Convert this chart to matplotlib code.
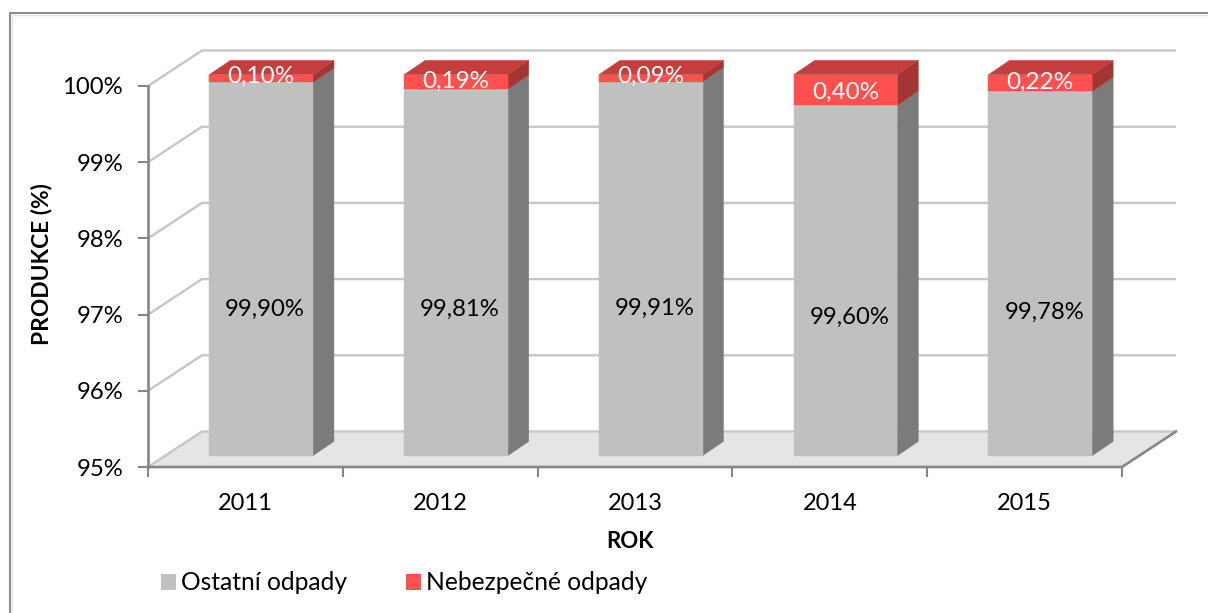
import matplotlib
matplotlib.use("Agg")
import matplotlib.pyplot as plt
from matplotlib.lines import Line2D
from matplotlib.patches import Polygon, Patch

plt.rcParams['font.family'] = ['Lato', 'DejaVu Sans']

years = ['2011', '2012', '2013', '2014', '2015']
ostatni = [99.90, 99.81, 99.91, 99.60, 99.78]
nebezpecne = [0.10, 0.19, 0.09, 0.40, 0.22]
ostatni_labels = ['99,90%', '99,81%', '99,91%', '99,60%', '99,78%']
nebezpecne_labels = ['0,10%', '0,19%', '0,09%', '0,40%', '0,22%']
y_ticks = [95, 96, 97, 98, 99, 100]
y_tick_labels = ['95%', '96%', '97%', '98%', '99%', '100%']

W, H = 1208, 613
fig = plt.figure(figsize=(W / 100, H / 100), dpi=100)
fig.patch.set_facecolor('white')

# chart border: only top and left are visible in the crop, with a faint inner shadow
fig.add_artist(Line2D([10 / W, 10 / W, 1], [0, 1 - 13 / H, 1 - 13 / H], transform=fig.transFigure,
                      color='#8c8c8c', lw=1.5, zorder=-1))
fig.add_artist(Line2D([12 / W, 12 / W, 1], [0, 1 - 15 / H, 1 - 15 / H], transform=fig.transFigure,
                      color='#e4e4e4', lw=1, zorder=-1))

# front plane of the fake 3D box, in pixels
left, right, bottom, top = 148, 1122, 467, 86
ax = fig.add_axes([left / W, 1 - bottom / H, (right - left) / W, (bottom - top) / H])
ax.set_xlim(0, len(years))
ax.set_ylim(95, 100)
ax.patch.set_alpha(0)

px_x = len(years) / (right - left)
px_y = 5 / (bottom - top)


def poly(pts, color, z):
    ax.add_patch(Polygon(pts, closed=True, fc=color, ec=color, lw=0.3, zorder=z, clip_on=False))


# wall depth
wall_dx = 54 * px_x
wall_dy = 35.5 * px_y

# floor
poly([(0, 95), (5, 95), (5 + wall_dx, 95 + wall_dy), (wall_dx, 95 + wall_dy)], '#e5e5e5', 1)

# gridlines, going back along the side wall
for t in y_ticks:
    ax.plot([0, wall_dx, 5 + wall_dx], [t, t + wall_dy, t + wall_dy], color='#c6c6c6', lw=1.7,
            solid_joinstyle='miter', solid_capstyle='butt', zorder=2, clip_on=False)

# floor front and right edge
ax.plot([0, 5, 5 + wall_dx], [95, 95, 95 + wall_dy], color='#868686', lw=1.9,
        solid_joinstyle='miter', zorder=3, clip_on=False)

# bars
bar_w = 103.7 * px_x
shift_x = 15.7 * px_x
shift_y = 11.3 * px_y
depth_x = 21 * px_x
depth_y = 14.3 * px_y

# Excel placed the labels a little unevenly, nudges in pixels
ostatni_nudge = [-40, -37, -40, -37, -39]
nebezpecne_nudge = [2, 1, 2, -2, 1]

for i in range(len(years)):
    x0 = i + 0.5 + shift_x - bar_w / 2
    x1 = x0 + bar_w
    y0 = 95 + shift_y
    y1 = ostatni[i] + shift_y
    y2 = ostatni[i] + nebezpecne[i] + shift_y

    poly([(x1, y0), (x1 + depth_x, y0 + depth_y), (x1 + depth_x, y1 + depth_y), (x1, y1)], '#7b7b7b', 4)
    poly([(x1, y1), (x1 + depth_x, y1 + depth_y), (x1 + depth_x, y2 + depth_y), (x1, y2)], '#a33535', 4)
    poly([(x0, y2), (x1, y2), (x1 + depth_x, y2 + depth_y), (x0 + depth_x, y2 + depth_y)], '#c43e3e', 4)
    poly([(x0, y0), (x1, y0), (x1, y1), (x0, y1)], '#c0c0c0', 5)
    poly([(x0, y1), (x1, y1), (x1, y2), (x0, y2)], '#ff5050', 5)

    xc = (x0 + x1) / 2
    ax.text(xc + 4 * px_x, (y0 + y1) / 2 + ostatni_nudge[i] * px_y, ostatni_labels[i], ha='center', va='center',
            fontsize=17.2, color='black', zorder=6)
    ax.text(xc, (y1 + y2) / 2 + nebezpecne_nudge[i] * px_y, nebezpecne_labels[i], ha='center', va='center',
            fontsize=17.5, color='white', zorder=6)

# axes and ticks
for s in ['top', 'right', 'bottom']:
    ax.spines[s].set_visible(False)
ax.spines['left'].set_color('#868686')
ax.spines['left'].set_linewidth(1.9)
ax.spines['left'].set_zorder(3)

ax.set_yticks(y_ticks, y_tick_labels)
ax.set_xticks(range(len(years) + 1), [])
ax.set_xticks([i + 0.5 for i in range(len(years))], years, minor=True)
ax.tick_params(axis='y', length=7, width=1.5, color='#868686', labelsize=17.2, pad=11)
ax.tick_params(axis='x', which='major', length=7, width=1.5, color='#868686')
ax.tick_params(axis='x', which='minor', length=0, labelsize=17, pad=19)

ax.set_xlabel('ROK', fontsize=16, fontweight='bold')
ax.xaxis.set_label_coords((630 - left) / (right - left), -(542 - bottom) / (bottom - top))
ax.xaxis.label.set_va('center')
ax.set_ylabel('PRODUKCE (%)', fontsize=16.4, fontweight='bold')
ax.yaxis.set_label_coords((42 - left) / (right - left), (bottom - 264) / (bottom - top))
ax.yaxis.label.set_va('center')

handles = [Patch(fc='#c0c0c0', label='Ostatní odpady'), Patch(fc='#ff5050', label='Nebezpečné odpady')]
fig.legend(handles=handles, loc='center left', bbox_to_anchor=(156 / W, 1 - 583 / H), ncol=2,
           frameon=False, fontsize=17.7, handlelength=0.61, handleheight=0.61, handletextpad=0.2,
           columnspacing=2.4, borderpad=0.2, borderaxespad=0)

fig.savefig('out.png', dpi=100)
